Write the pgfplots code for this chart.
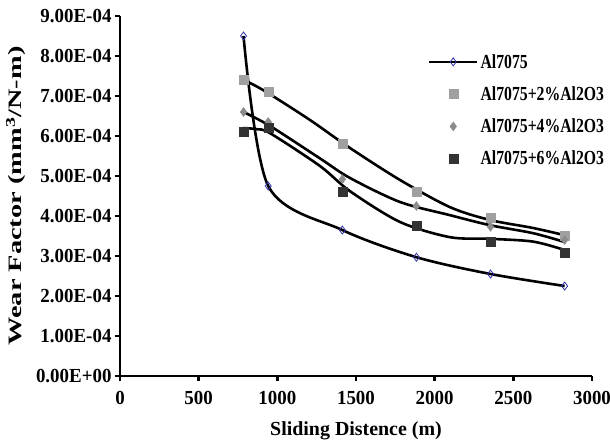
\documentclass[border=0pt]{standalone}
\usepackage{pgfplots}
\pgfplotsset{compat=1.18}
\usepackage{fontspec}
\setmainfont{Liberation Serif}
\newfontfamily\narrowfont{Liberation Serif}[FakeStretch=0.95]
\newfontfamily\legfont{Liberation Serif}[FakeStretch=0.79]
\newfontfamily\widefont{Liberation Serif}[FakeStretch=1.5]
\definecolor{alblue}{HTML}{3333AA}
\definecolor{gtwo}{HTML}{A0A0A0}
\definecolor{gfour}{HTML}{8C8C8C}
\definecolor{gsix}{HTML}{333333}

\begin{document}
\begin{tikzpicture}
\path[use as bounding box] (-120bp,-72bp) rectangle (490bp,376bp);
\begin{axis}[
  at={(0,0)}, anchor=south west,
  scale only axis,
  width=472bp, height=360bp,
  xmin=0, xmax=3000,
  ymin=0, ymax=0.0009,
  scaled y ticks=false,
  axis x line*=bottom,
  axis y line*=left,
  axis line style={line width=2.4bp, -},
  xtick={0,500,1000,1500,2000,2500,3000},
  xticklabels={0,500,1000,1500,2000,2500,3000},
  ytick={0,0.0001,0.0002,0.0003,0.0004,0.0005,0.0006,0.0007,0.0008,0.0009},
  yticklabels={0.00E+00,1.00E-04,2.00E-04,3.00E-04,4.00E-04,5.00E-04,6.00E-04,7.00E-04,8.00E-04,9.00E-04},
  tick align=outside,
  major tick length=5bp,
  tick style={line width=2.4bp, black},
  ticklabel style={font=\narrowfont\bfseries\fontsize{20}{24}\selectfont},
  x tick label style={yshift=-7bp},
  xlabel={Sliding Distence (m)},
  xlabel style={font=\bfseries\fontsize{20}{24}\selectfont, yshift=-10bp},
  ylabel={Wear Factor (mm\textsuperscript{3}/N-m)},
  ylabel style={font=\widefont\bfseries\fontsize{19}{22}\selectfont, yshift=4bp},
  legend style={at={(0.652,0.9)}, anchor=north west, draw=none, fill=none,
    font=\legfont\bfseries\fontsize{20}{24}\selectfont,
    row sep=13bp, inner sep=0pt, cells={anchor=west}},
  legend image code/.code={\draw[mark repeat=2,mark phase=2,#1] plot coordinates {(0bp,0bp)(24bp,0bp)(48bp,0bp)};},
]
% measured points
\addplot[only marks, mark=square*, mark size=4.5bp, draw=gtwo, fill=gtwo, forget plot] coordinates {
  (785,0.000742) (942,0.000712) (1413,0.000580) (1884,0.000460) (2355,0.000397) (2826,0.000350)
};
\addplot[only marks, mark=diamond*, mark size=4.5bp, draw=gfour, fill=gfour, forget plot] coordinates {
  (785,0.000660) (942,0.000635) (1413,0.000492) (1884,0.000425) (2355,0.000373) (2826,0.000340)
};
\addplot[only marks, mark=square*, mark size=4.5bp, draw=gsix, fill=gsix, forget plot] coordinates {
  (785,0.000612) (942,0.000620) (1413,0.000460) (1884,0.000375) (2355,0.000335) (2826,0.000308)
};
% trend curves
\addplot[smooth, black, line width=2.6bp, forget plot] coordinates {
  (785,0.000740) (909,0.000715) (1200,0.000642) (1462,0.000570) (1780,0.000490) (2098,0.000422) (2352,0.000390) (2626,0.000370) (2826,0.000352)
};
\addplot[smooth, black, line width=2.6bp, forget plot] coordinates {
  (785,0.000660) (954,0.000625) (1271,0.000544) (1462,0.000495) (1780,0.000435) (2098,0.000402) (2352,0.000377) (2626,0.000357) (2826,0.000335)
};
\addplot[smooth, black, line width=2.6bp, forget plot] coordinates {
  (785,0.000620) (870,0.000617) (954,0.000607) (1271,0.000525) (1462,0.000462) (1780,0.000385) (2098,0.000347) (2352,0.000343) (2626,0.000336) (2826,0.000315)
};
% Al7075
\addplot[smooth, black, line width=2.6bp, mark=diamond, mark size=4bp,
  mark options={draw=alblue, fill=white, line width=0.8bp}] coordinates {
  (785,0.000850) (942,0.000475) (1413,0.000365) (1884,0.000297) (2355,0.000255) (2826,0.000225)
};
\addlegendentry{Al7075}
\addlegendimage{only marks, mark=square*, mark size=4.5bp, draw=gtwo, fill=gtwo}
\addlegendentry{Al7075+2\%Al2O3}
\addlegendimage{only marks, mark=diamond*, mark size=4.5bp, draw=gfour, fill=gfour}
\addlegendentry{Al7075+4\%Al2O3}
\addlegendimage{only marks, mark=square*, mark size=4.5bp, draw=gsix, fill=gsix}
\addlegendentry{Al7075+6\%Al2O3}
\end{axis}
\end{tikzpicture}
\end{document}
